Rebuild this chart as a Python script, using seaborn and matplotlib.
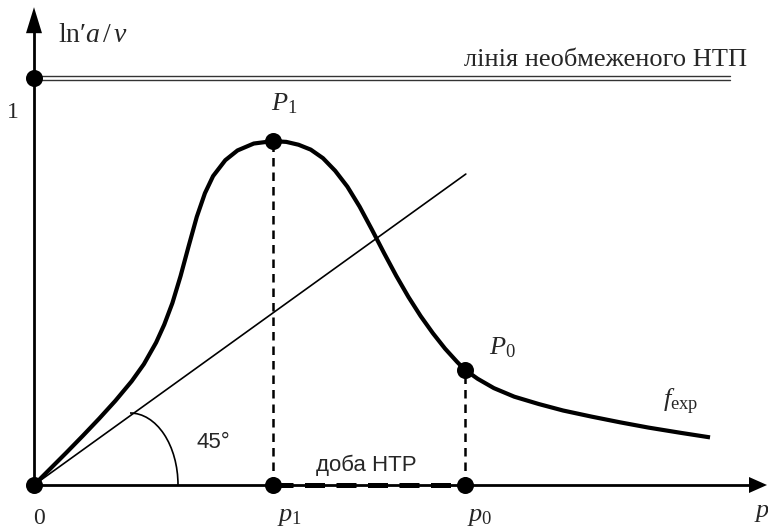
import matplotlib
matplotlib.use("Agg")
import matplotlib.pyplot as plt
import seaborn as sns
import pandas as pd
from matplotlib.patches import Arc, Polygon

# f_exp curve (p, ln'a/v), values in units of the unlimited-progress level
p_curve = [0.000, 0.040, 0.080, 0.120, 0.160, 0.200, 0.240, 0.270, 0.300, 0.320,
           0.340, 0.360, 0.380, 0.400, 0.420, 0.440, 0.470, 0.500, 0.540, 0.587,
           0.620, 0.650, 0.680, 0.710, 0.740, 0.770, 0.800, 0.830, 0.860, 0.890,
           0.920, 0.950, 0.980, 1.010, 1.040, 1.059, 1.090, 1.130, 1.180, 1.240,
           1.300, 1.370, 1.440, 1.510, 1.590, 1.661]
v_curve = [0.000, 0.040, 0.080, 0.121, 0.163, 0.207, 0.255, 0.297, 0.350, 0.394,
           0.447, 0.513, 0.587, 0.659, 0.717, 0.759, 0.798, 0.822, 0.839, 0.845,
           0.843, 0.836, 0.824, 0.803, 0.772, 0.733, 0.684, 0.628, 0.570, 0.514,
           0.462, 0.415, 0.373, 0.335, 0.302, 0.283, 0.261, 0.238, 0.217, 0.199,
           0.183, 0.168, 0.154, 0.141, 0.128, 0.117]

# key points
p_marks = [0.587, 1.059]          # p1, p0
v_marks = [0.845, 0.283]          # P1, P0
unlimited_level = 1.0
unlimited_end = 1.710
ray_p = [0.0, 1.061]              # reference ray from the origin
ray_v = [0.0, 0.764]

axis_p_max = 1.801
axis_v_max = 1.174

W, H, DPI = 768, 529, 100
PX = 407.0                        # pixels per unit
OX, OY = 34, 485                  # origin in pixels

sns.set_theme(style="white")
plt.rcParams["font.family"] = ["Liberation Serif", "DejaVu Serif"]
plt.rcParams["mathtext.fontset"] = "custom"
plt.rcParams["mathtext.rm"] = "Liberation Serif"
plt.rcParams["mathtext.it"] = "Liberation Serif:italic"

fig = plt.figure(figsize=(W / DPI, H / DPI), dpi=DPI)
ax = fig.add_axes([0, 0, 1, 1])
ax.set_xlim(-OX / PX, (W - OX) / PX)
ax.set_ylim(-(H - OY) / PX, OY / PX)
ax.set_axis_off()

k = "black"
u = 1 / PX  # one pixel in data units

# axes with arrow heads
ax.plot([0, 0], [0, axis_v_max - 20 * u], color=k, lw=2.0, solid_capstyle="butt")
ax.plot([0, axis_p_max - 14 * u], [0, 0], color=k, lw=2.0, solid_capstyle="butt")
ax.add_patch(Polygon([[0, axis_v_max], [-8 * u, axis_v_max - 26 * u],
                      [8 * u, axis_v_max - 26 * u]], closed=True, color=k, lw=0))
ax.add_patch(Polygon([[axis_p_max, 0], [axis_p_max - 18 * u, 8 * u],
                      [axis_p_max - 18 * u, -8 * u]], closed=True, color=k, lw=0))

# double line of unlimited progress
for off in (1.6 * u, -1.6 * u):
    ax.plot([0, unlimited_end], [unlimited_level + off] * 2, color="#333333", lw=1.0)

# reference ray and angle arc
ax.plot(ray_p, ray_v, color=k, lw=1.2)
arc_cx = 96 * u
ax.add_patch(Arc((arc_cx, 0), width=96 * u, height=144 * u, theta1=0, theta2=90,
                 color=k, lw=1.2))

# drop lines
for pm, vm in zip(p_marks, v_marks):
    ax.plot([pm, pm], [0, vm], color=k, lw=1.8, dashes=(3.4, 2.4))

# NTR era segment along the axis
ax.plot(p_marks, [0, 0], color=k, lw=3.6, dashes=(4.0, 2.3), dash_capstyle="butt")

# the f_exp curve
df = pd.DataFrame({"p": p_curve, "v": v_curve})
sns.lineplot(data=df, x="p", y="v", sort=False, color=k, lw=3.0, ax=ax,
             solid_joinstyle="round", solid_capstyle="butt")

# points
pts = pd.DataFrame({
    "p": [0, 0] + p_marks + p_marks,
    "v": [0, unlimited_level] + v_marks + [0, 0],
})
sns.scatterplot(data=pts, x="p", y="v", color=k, s=150, edgecolor=k, linewidth=0,
                zorder=5, ax=ax, legend=False)
ax.set_xlabel("")
ax.set_ylabel("")


def fig_xy(x, y):
    return x / W, 1 - y / H


def put(x, y, s, **kw):
    kw.setdefault("ha", "center")
    kw.setdefault("va", "center")
    kw.setdefault("fontsize", 18)
    fig.text(*fig_xy(x, y), s, **kw)


put(58, 36, "ln′" + r"$a\,/\,v$", ha="left", fontsize=20)
put(13, 112, "1", fontsize=17)
put(747, 66, "лінія необмеженого НТП", ha="right", va="baseline", fontsize=19)
put(284, 104, r"$P_1$", fontsize=19)
put(502, 348, r"$P_0$", fontsize=19)
put(681, 402, r"$f_{\mathrm{exp}}$", fontsize=19)
put(39, 518, "0", fontsize=17)
put(289, 517, r"$p_1$", fontsize=19)
put(480, 517, r"$p_0$", fontsize=19)
put(762, 513, r"$p$", fontsize=19)

sans = ["Liberation Sans", "DejaVu Sans"]
put(213, 442, "45°", family=sans, fontsize=16)
put(366, 465, "доба НТР", family=sans, fontsize=16)

fig.savefig("out.png", dpi=DPI, facecolor="white")
